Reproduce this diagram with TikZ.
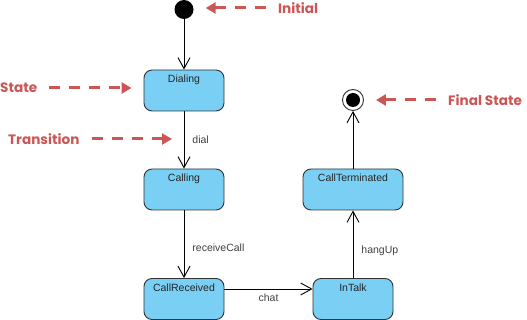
\documentclass[tikz,border=0pt]{standalone}
\usepackage{fontspec}
\setmainfont{Liberation Sans}
\newfontfamily\notefont{Poppins}
\usetikzlibrary{arrows.meta}
\definecolor{statefill}{RGB}{122,207,245}
\definecolor{stateline}{RGB}{51,51,51}
\definecolor{noteclr}{RGB}{204,85,85}

\tikzset{
  state/.style={draw=stateline,fill=statefill,line width=0.9pt,rounded corners=8pt,
    minimum width=80pt,inner xsep=2pt,inner ysep=0pt,text height=13pt,text depth=28pt,
    font=\fontsize{10.5}{12}\selectfont,text=black!85},
  trans/.style={-{Straight Barb[length=11pt,width=12pt]},draw=black,line width=0.9pt},
  guard/.style={font=\fontsize{10.5}{12}\selectfont,text=black!75,inner sep=0pt},
  note/.style={noteclr,line width=3pt,dash pattern=on 11pt off 9pt,
    -{Triangle[length=10pt,width=11pt]},shorten <=12pt,shorten >=12pt},
  notetext/.style={text=noteclr,font=\notefont\bfseries\fontsize{13.6}{16}\selectfont,inner sep=0pt}
}

\begin{document}
\begin{tikzpicture}[x=1pt,y=-1pt]
  \useasboundingbox (0,0) rectangle (527,320);
  % pseudo states
  \node[circle,fill=black,minimum size=19pt,inner sep=0pt] (init) at (184,9.5) {};
  \node[circle,draw=stateline,fill=white,line width=0.9pt,minimum size=21pt,inner sep=0pt] (final) at (353,100) {};
  \fill[black] (final) circle (7pt);
  % states
  \node[state] (dial) at (184,90.5) {Dialing};
  \node[state] (call) at (184,189.5) {Calling};
  \node[state] (recv) at (184,299) {CallReceived};
  \node[state] (talk) at (353,299) {InTalk};
  \node[state,minimum width=100pt] (term) at (353,189.5) {CallTerminated};
  % transitions
  \draw[trans] (init) -- (dial);
  \draw[trans] (dial) -- node[guard,right=8pt] (gDial) {dial} (call);
  \draw[trans] (call) -- node[guard,right=8pt,pos=0.55] (gRecv) {receiveCall} (recv);
  \draw[trans] ([yshift=10pt]recv.east) -- node[guard,below=4pt] (gChat) {chat} ([yshift=10pt]talk.west);
  \draw[trans] (talk) -- node[guard,right=8pt,pos=0.4] (gHang) {hangUp} (term);
  \draw[trans] (term) -- (final);
  % notes
  \node[notetext,anchor=west] (nInit) at (278,8) {Initial};
  \node[notetext,anchor=west] (nState) at (0,88) {State};
  \node[notetext,anchor=west] (nTrans) at (8,139) {Transition};
  \node[notetext,anchor=west] (nFinal) at (448,100) {Final State};
  \draw[note] (nInit.west) -- (init.east |- nInit.west);
  \draw[note] (nState.east) -- (nState -| dial.west);
  \draw[note] (nTrans.east) -- (nTrans -| dial.south);
  \draw[note] (nFinal.west) -- (nFinal -| final.east);
\end{tikzpicture}
\end{document}
